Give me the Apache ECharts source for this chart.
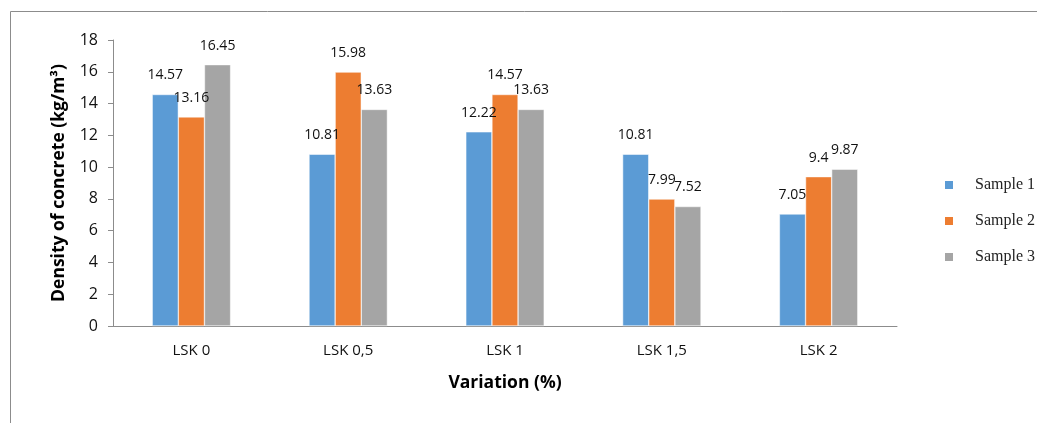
<!DOCTYPE html>
<html>
<head>
<meta charset="utf-8">
<style>
  html, body { margin: 0; padding: 0; background: #fff; }
  #chart { width: 1037px; height: 423px; }
</style>
<script src="https://cdn.jsdelivr.net/npm/echarts@6/dist/echarts.min.js"></script>
</head>
<body>
<div id="chart"></div>
<script>
// Density of concrete for each LSK variation, three samples each
const categories = ['LSK 0', 'LSK 0,5', 'LSK 1', 'LSK 1,5', 'LSK 2'];
const sample1 = [14.57, 10.81, 12.22, 10.81, 7.05];
const sample2 = [13.16, 15.98, 14.57, 7.99, 9.4];
const sample3 = [16.45, 13.63, 13.63, 7.52, 9.87];
const seriesNames = ['Sample 1', 'Sample 2', 'Sample 3'];
const colors = ['#5B9BD5', '#ED7D31', '#A5A5A5'];

const chart = echarts.init(document.getElementById('chart'), null, { renderer: 'canvas' });

const labelFont = 'Open Sans, Liberation Sans, sans-serif';

function barSeries(name, data, color) {
  return {
    name: name,
    type: 'bar',
    data: data,
    barGap: '0%',
    barCategoryGap: '50%',
    itemStyle: { color: color, borderColor: '#ffffff', borderWidth: 0.5 },
    label: {
      show: true,
      position: 'top',
      distance: 12,
      fontFamily: labelFont,
      fontSize: 14,
      color: '#111'
    }
  };
}

chart.setOption({
  animation: false,
  backgroundColor: '#ffffff',
  grid: { left: 113, right: 140, top: 40, bottom: 97 },
  graphic: [
    {
      type: 'polyline',
      shape: { points: [[10.5, 430], [10.5, 11.5], [1040, 11.5]] },
      style: { stroke: '#8c8c8c', lineWidth: 1, fill: null },
      silent: true
    }
  ],
  legend: {
    orient: 'vertical',
    left: 938,
    top: 172,
    itemWidth: 10,
    itemHeight: 10,
    itemGap: 20,
    icon: 'rect',
    data: seriesNames,
    textStyle: {
      fontFamily: 'Liberation Serif, DejaVu Serif, serif',
      fontSize: 16,
      color: '#222',
      padding: [0, 0, 0, 16]
    }
  },
  xAxis: {
    type: 'category',
    data: categories,
    name: 'Variation (%)',
    nameLocation: 'middle',
    nameGap: 48,
    nameTextStyle: {
      fontFamily: labelFont,
      fontSize: 17.5,
      fontWeight: 'bold',
      color: '#000'
    },
    axisLine: { lineStyle: { color: '#8c8c8c', width: 1 } },
    axisTick: { show: false },
    axisLabel: {
      margin: 17,
      fontFamily: labelFont,
      fontSize: 15,
      color: '#111'
    }
  },
  yAxis: {
    type: 'value',
    min: 0,
    max: 18,
    interval: 2,
    name: 'Density of concrete (kg/m³)',
    nameLocation: 'middle',
    nameGap: 45,
    nameTextStyle: {
      fontFamily: labelFont,
      fontSize: 17.5,
      fontWeight: 'bold',
      color: '#000'
    },
    splitLine: { show: false },
    axisLine: { show: true, lineStyle: { color: '#8c8c8c', width: 1 } },
    axisTick: { show: true, length: 5, lineStyle: { color: '#8c8c8c' } },
    axisLabel: {
      margin: 15,
      fontFamily: labelFont,
      fontSize: 16,
      color: '#111'
    }
  },
  series: [
    barSeries(seriesNames[0], sample1, colors[0]),
    barSeries(seriesNames[1], sample2, colors[1]),
    barSeries(seriesNames[2], sample3, colors[2])
  ]
});
</script>
</body>
</html>
